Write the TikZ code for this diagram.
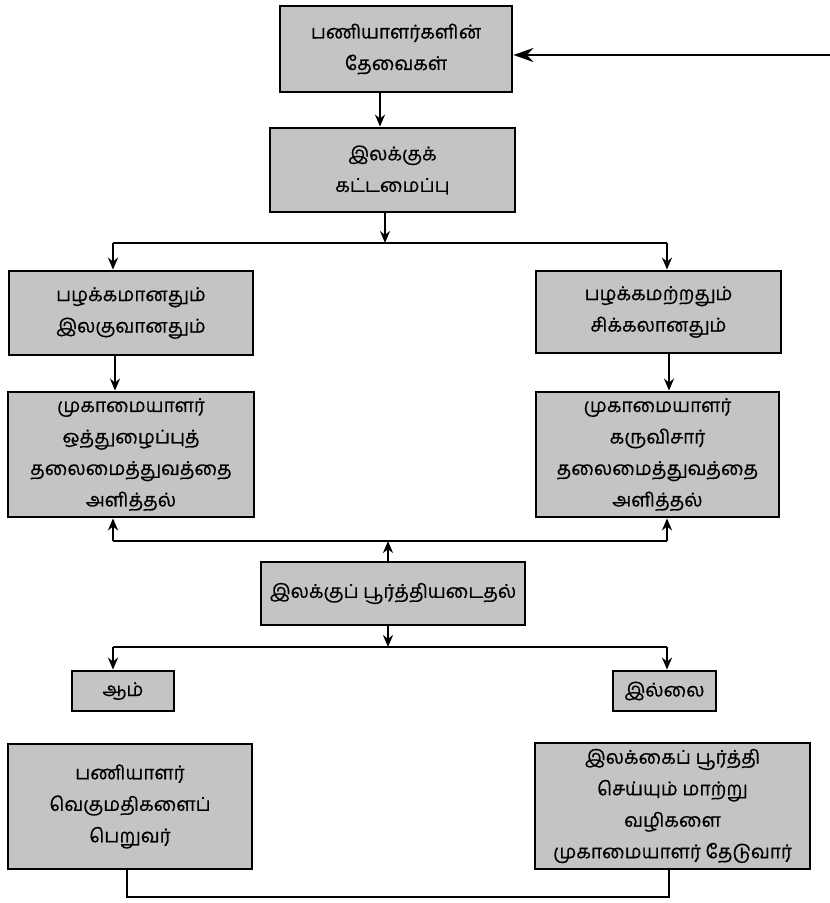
\documentclass[tikz,border=0pt]{standalone}
\usepackage{fontspec}
\newfontfamily\tamil[Script=Tamil,FakeBold=0.5]{Hind Madurai}
\usetikzlibrary{arrows.meta}
\definecolor{boxgray}{RGB}{196,196,196}
\tikzset{
  fbox/.style={draw=black, line width=2.8pt, fill=boxgray, inner sep=0pt, align=center,
    font=\tamil\fontsize{19}{31.5}\selectfont, text=black},
  conn/.style={line width=2.3pt, draw=black},
  arr/.style={conn, -{Stealth[length=12pt,width=10pt]}},
  bigarr/.style={conn, -{Stealth[length=20pt,width=14pt]}}
}
\begin{document}
\begin{tikzpicture}[x=1pt,y=-1pt]
\useasboundingbox (0,0) rectangle (830,903);
\fill[white] (0,0) rectangle (830,903);

\node[fbox, minimum width=232pt, minimum height=86pt] (b1) at (396,49) {பணியாளர்களின்\\தேவைகள்};
\node[fbox, minimum width=245pt, minimum height=84pt] (b2) at (392.5,170) {இலக்குக்\\கட்டமைப்பு};
\node[fbox, minimum width=244pt, minimum height=84pt] (b3) at (131,313) {பழக்கமானதும்\\இலகுவானதும்};
\node[fbox, minimum width=245pt, minimum height=82pt] (b4) at (658.5,312) {பழக்கமற்றதும்\\சிக்கலானதும்};
\node[fbox, minimum width=246pt, minimum height=125pt] (b5) at (131,454.5) {முகாமையாளர்\\ஒத்துழைப்புத்\\தலைமைத்துவத்தை\\அளித்தல்};
\node[fbox, minimum width=243pt, minimum height=125pt] (b6) at (657.5,454.5) {முகாமையாளர்\\கருவிசார்\\தலைமைத்துவத்தை\\அளித்தல்};
\node[fbox, minimum width=264pt, minimum height=63pt] (b7) at (393,593.5) {இலக்குப் பூர்த்தியடைதல்};
\node[fbox, minimum width=102pt, minimum height=40pt] (b8) at (123,691) {ஆம்};
\node[fbox, minimum width=103pt, minimum height=40pt] (b9) at (664.5,691) {இல்லை};
\node[fbox, minimum width=244pt, minimum height=125pt] (b10) at (130,806.5) {பணியாளர்\\வெகுமதிகளைப்\\பெறுவர்};
\node[fbox, minimum width=275pt, minimum height=126pt] (b11) at (672.5,806) {இலக்கைப் பூர்த்தி\\செய்யும் மாற்று\\வழிகளை\\முகாமையாளர் தேடுவார்};

% coordinates
\coordinate (rin) at (830,55);
\coordinate (xa) at (380,0);
\coordinate (xb) at (385,0);
\coordinate (xl) at (113,0);
\coordinate (xr) at (667,0);
\coordinate (xm) at (388,0);
\coordinate (y1) at (0,243);
\coordinate (y2) at (0,541);
\coordinate (y3) at (0,647);
\coordinate (j1) at (xb |- y1);
\coordinate (l1) at (xl |- y1);
\coordinate (r1) at (xr |- y1);
\coordinate (j2) at (xm |- y2);
\coordinate (l2) at (xl |- y2);
\coordinate (r2) at (xr |- y2);
\coordinate (j3) at (xm |- y3);
\coordinate (l3) at (xl |- y3);
\coordinate (r3) at (xr |- y3);
\coordinate (bl) at (127,897);
\coordinate (br) at (669,897);

\draw[bigarr] (rin) -- (rin -| b1.east);
\draw[arr] (xa |- b1.south) -- (xa |- b2.north);
\draw[arr] (xb |- b2.south) -- (j1);
\draw[conn] (l1) -- (r1);
\draw[arr] (l1) -- (l1 |- b3.north);
\draw[arr] (r1) -- (r1 |- b4.north);
\draw[arr] (115,0 |- b3.south) -- (115,0 |- b5.north);
\draw[arr] (669,0 |- b4.south) -- (669,0 |- b6.north);

\draw[arr] (xm |- b7.north) -- (j2);
\draw[conn] (l2) -- (r2);
\draw[arr] (l2) -- (l2 |- b5.south);
\draw[arr] (r2) -- (r2 |- b6.south);

\draw[arr] (xm |- b7.south) -- (j3);
\draw[conn] (l3) -- (r3);
\draw[arr] (l3) -- (l3 |- b8.north);
\draw[arr] (r3) -- (r3 |- b9.north);

\draw[conn] (bl |- b10.south) -- (bl) -- (br) -- (br |- b11.south);
\end{tikzpicture}
\end{document}
